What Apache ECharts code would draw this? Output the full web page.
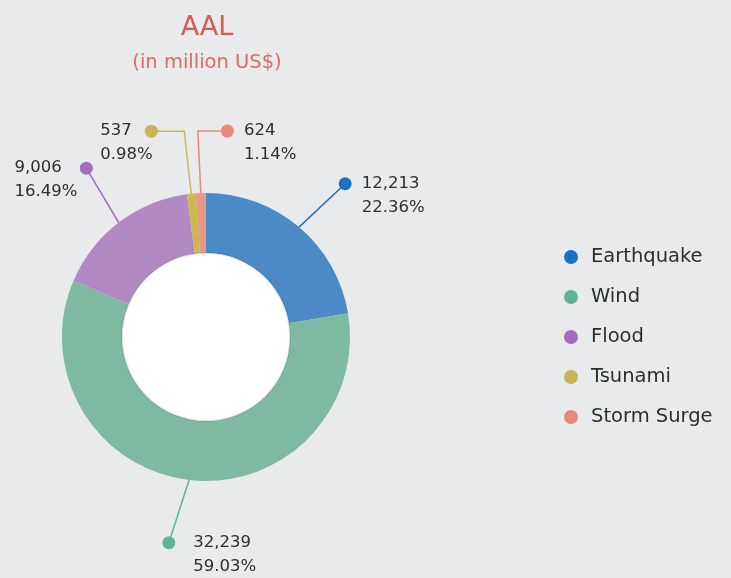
<!DOCTYPE html>
<html>
<head>
<meta charset="utf-8">
<script src="https://cdn.jsdelivr.net/npm/echarts@6/dist/echarts.min.js"></script>
<style>
  html, body { margin: 0; padding: 0; background: #e9eaeb; }
  #chart { width: 731px; height: 578px; }
</style>
</head>
<body>
<div id="chart"></div>
<script>
// Average annual loss by hazard type, in million US$
const categories = ['Earthquake', 'Wind', 'Flood', 'Tsunami', 'Storm Surge'];
const aalValues = [12213, 32239, 9006, 537, 624];
const aalShares = ['22.36%', '59.03%', '16.49%', '0.98%', '1.14%'];

// Styling
const sliceColors = ['#4c89c7', '#7dbaa1', '#b389c4', '#cbb94f', '#ea9985'];
const markerColors = ['#1a73c2', '#5fb593', '#a56bc0', '#c9b555', '#e8887a'];

// Donut geometry (px)
const CX = 206, CY = 337, R_OUT = 144, R_IN = 84;

// Callout placement per slice: angular nudge from the slice middle (deg),
// distance of the marker dot from the centre, which side the text sits on,
// gap between dot and text, and horizontal lean of an elbow line (null = straight)
const callouts = [
  { nudge: 2,   dist: 207, side: 'right', gap: 10, elbow: null },
  { nudge: 3.5, dist: 209, side: 'right', gap: 18, elbow: null },
  { nudge: 2,   dist: 207, side: 'left',  gap: 18, elbow: null },
  { nudge: -9,  dist: 213, side: 'left',  gap: 13, elbow: -7 },
  { nudge: 8,   dist: 207, side: 'right', gap: 10, elbow: -3 }
];

const LABEL_FONT = 'DejaVu Sans';
const LABEL_SIZE = 16.5;
const LINE_H = 24;
const DOT = 13;

const measureCtx = document.createElement('canvas').getContext('2d');
measureCtx.font = LABEL_SIZE + 'px "' + LABEL_FONT + '"';
const textWidth = (s) => measureCtx.measureText(s).width;

const fmt = (v) => v.toLocaleString('en-US');

const rich = {
  v: { fontFamily: LABEL_FONT, fontSize: LABEL_SIZE, color: '#2e2e2e', lineHeight: LINE_H, verticalAlign: 'middle' },
  p: { fontFamily: LABEL_FONT, fontSize: LABEL_SIZE, color: '#2e2e2e', lineHeight: LINE_H, verticalAlign: 'middle' }
};
callouts.forEach((c, i) => {
  rich['d' + i] = { width: DOT, height: DOT, borderRadius: DOT / 2, backgroundColor: markerColors[i], lineHeight: LINE_H, verticalAlign: 'middle' };
  rich['g' + i] = { width: c.gap, height: 1, lineHeight: LINE_H };
  rich['s' + i] = { width: c.gap + DOT, height: 1, lineHeight: LINE_H };
});

function labelText(params) {
  const i = params.dataIndex;
  const c = callouts[i];
  const v = fmt(aalValues[i]);
  const p = aalShares[i];
  if (c.side === 'right') {
    return '{d' + i + '|}{g' + i + '|}{v|' + v + '}\n{s' + i + '|}{p|' + p + '}';
  }
  return '{v|' + v + '}{g' + i + '|}{d' + i + '|}\n{p|' + p + '}';
}

function placeLabel(params) {
  const i = params.dataIndex;
  const c = callouts[i];
  const edge = params.labelLinePoints[0];
  const mid = Math.atan2(edge[0] - CX, CY - edge[1]);
  const a = mid + c.nudge * Math.PI / 180;
  const dot = [CX + c.dist * Math.sin(a), CY - c.dist * Math.cos(a)];
  let x;
  if (c.side === 'right') {
    x = dot[0] - DOT / 2;
  } else {
    x = dot[0] + DOT / 2 - (textWidth(fmt(aalValues[i])) + c.gap + DOT);
  }
  const pts = c.elbow === null
    ? [edge, dot]
    : [edge, [edge[0] + c.elbow, dot[1]], dot];
  return {
    x: x,
    y: dot[1] - LINE_H / 2,
    align: 'left',
    verticalAlign: 'top',
    labelLinePoints: pts
  };
}

const pieData = categories.map((name, i) => ({
  name: name,
  value: aalValues[i],
  itemStyle: { color: sliceColors[i] },
  labelLine: { lineStyle: { color: markerColors[i], width: 1.5 } }
}));

const legendData = categories.map((name, i) => ({
  name: name,
  itemStyle: { color: markerColors[i] }
}));

const chart = echarts.init(document.getElementById('chart'), null, { renderer: 'canvas' });
chart.setOption({
  backgroundColor: '#e9eaeb',
  animation: false,
  title: {
    text: 'AAL',
    subtext: '(in million US$)',
    left: 207,
    top: 14,
    padding: 0,
    textAlign: 'center',
    itemGap: 12,
    textStyle: { fontFamily: LABEL_FONT, fontSize: 27, fontWeight: 'normal', color: '#d95a55' },
    subtextStyle: { fontFamily: LABEL_FONT, fontSize: 19.5, color: '#de6a62' }
  },
  legend: {
    orient: 'vertical',
    left: 564,
    top: 247,
    padding: 0,
    icon: 'circle',
    itemWidth: 14,
    itemHeight: 14,
    itemGap: 20,
    selectedMode: false,
    data: legendData,
    textStyle: { fontFamily: LABEL_FONT, fontSize: 19.5, color: '#2e2e2e', lineHeight: 20, padding: [0, 0, 0, 8] }
  },
  series: [
    {
      type: 'pie',
      center: [CX, CY],
      radius: [R_IN, R_OUT],
      startAngle: 90,
      clockwise: true,
      avoidLabelOverlap: false,
      silent: true,
      data: pieData,
      label: {
        show: true,
        position: 'outside',
        formatter: labelText,
        rich: rich
      },
      labelLine: { show: true, length: 20, length2: 10, smooth: false },
      labelLayout: placeLabel
    },
    {
      type: 'pie',
      center: [CX, CY],
      radius: [0, R_IN],
      silent: true,
      label: { show: false },
      labelLine: { show: false },
      itemStyle: { color: '#ffffff', borderColor: 'rgba(0,0,0,0.10)', borderWidth: 2 },
      data: [{ name: 'centre', value: 1 }]
    }
  ]
});
</script>
</body>
</html>
